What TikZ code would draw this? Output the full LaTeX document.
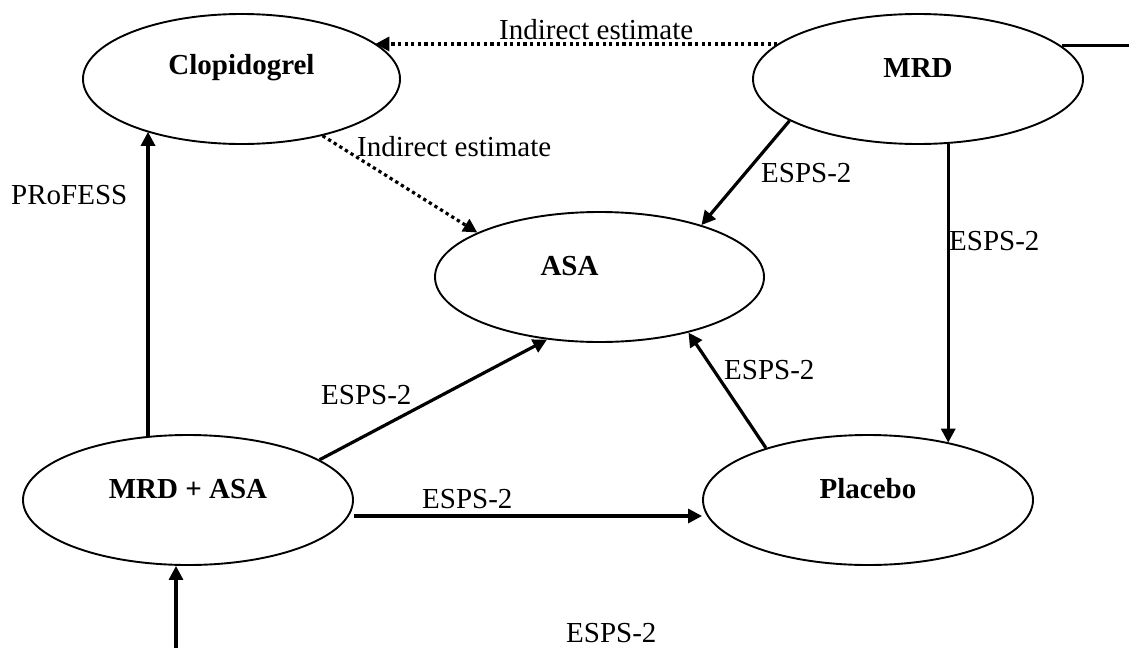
\documentclass[tikz,border=0pt]{standalone}
\usepackage{fontspec}
\setmainfont{Liberation Serif}
\usetikzlibrary{arrows.meta,shapes.geometric,calc}
\begin{document}
\begin{tikzpicture}[x=1pt,y=-1pt,
  state/.style={ellipse,draw,line width=1.9pt,inner sep=0pt,
    minimum width=330pt,minimum height=130pt},
  title/.style={font=\fontsize{29}{34}\selectfont\bfseries,inner sep=0pt},
  lbl/.style={font=\fontsize{29}{34}\selectfont,inner sep=0pt,anchor=base west},
  link/.style={line width=3.2pt,-{Triangle[length=14pt,width=14pt]}},
  estimate/.style={link,dash pattern=on 3.3pt off 3.3pt},
  plain/.style={line width=3.2pt}]

\fill[white] (0,0) rectangle (1129,648);
\useasboundingbox (0,0) rectangle (1129,648);

% treatments
\node[state,minimum width=317pt,
  label={[title,anchor=base,yshift=11pt]center:Clopidogrel}] (clop) at (241.5,79) {};
\node[state,
  label={[title,anchor=base,yshift=11pt]center:MRD}] (mrd) at (918,79) {};
\node[state,minimum width=329pt,
  label={[title,anchor=base,yshift=11pt,xshift=-30pt]center:ASA}] (asa) at (599.5,277) {};
\node[state,
  label={[title,anchor=base,yshift=11pt]center:MRD + ASA}] (mrdasa) at (188,500) {};
\node[state,
  label={[title,anchor=base,yshift=11pt]center:Placebo}] (placebo) at (868,500) {};

% free ends
\coordinate (mrdout) at (1129,45);
\coordinate (feed) at (176,648);

% indirect comparisons
\draw[estimate] (mrd.166) -- (mrd.166 -| clop.15);
\draw[estimate] (clop.-35) -- (asa.160);

% trial comparisons
\draw[link] (mrd.-162) -- (asa.27);
\draw[link] (mrd.-65) -- (mrd.-65 |- placebo.35);
\draw[link] (mrdasa.122) -- (mrdasa.122 |- clop.-151);
\draw[link] (mrdasa.17) -- (asa.-130);
\draw[link] ($(mrdasa.east)+(0,16)$) -- ($(placebo.west)+(0,16)$);
\draw[link] (placebo.153) -- (asa.-32);
\draw[link] (feed) -- (feed |- mrdasa.south);
\draw[plain] (mrd.13) -- (mrd.13 -| mrdout);

% connector labels
\node[lbl] (ie1) at (499,39) {Indirect estimate};
\node[lbl] (ie2) at (357,156) {Indirect estimate};
\node[lbl] (prof) at (11,204) {PRoFESS};
\node[lbl] (e1) at (761,182) {ESPS-2};
\node[lbl] (e2) at (949,250) {ESPS-2};
\node[lbl] (e3) at (321,404) {ESPS-2};
\node[lbl] (e4) at (422,508) {ESPS-2};
\node[lbl] (e5) at (724,379) {ESPS-2};
\node[lbl] (e6) at (566,642) {ESPS-2};
\end{tikzpicture}
\end{document}
